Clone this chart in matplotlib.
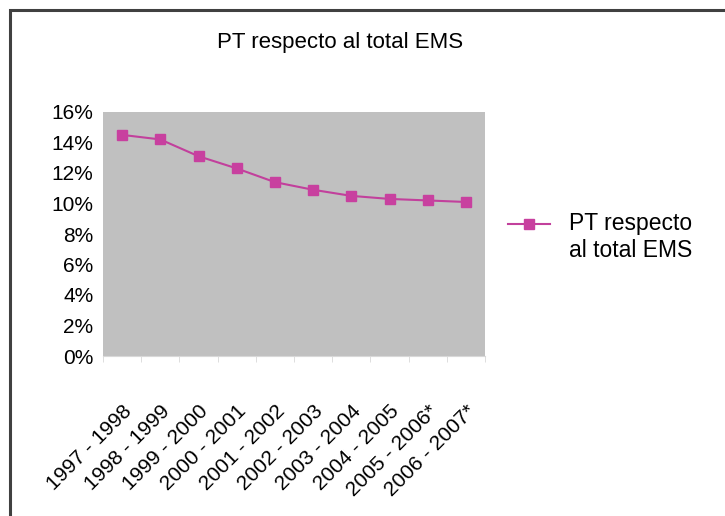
import matplotlib.pyplot as plt
from matplotlib.patches import Rectangle
from matplotlib.ticker import PercentFormatter

plt.rcParams['font.family'] = ['Liberation Sans', 'DejaVu Sans']

# data
periodos = ['1997 - 1998', '1998 - 1999', '1999 - 2000', '2000 - 2001', '2001 - 2002',
            '2002 - 2003', '2003 - 2004', '2004 - 2005', '2005 - 2006*', '2006 - 2007*']
pt_ems = [14.5, 14.2, 13.1, 12.3, 11.4, 10.9, 10.5, 10.3, 10.2, 10.1]

W, H = 725, 516
fig = plt.figure(figsize=(W / 100, H / 100), dpi=100)
ax = fig.add_axes([103 / W, 1 - 356 / H, 382 / W, 244 / H])

# outer frame (only top and left visible in the reference)
fig.patches.append(Rectangle((10 / W, -0.05), 1.1, 1 - 10 / H + 0.05,
                             transform=fig.transFigure, fill=False,
                             edgecolor='#404040', lw=2.2))

x = list(range(len(periodos)))
ax.plot(x, pt_ems, color='#C2409C', lw=1.5, marker='s', markersize=7.5,
        markerfacecolor='#C8409F', markeredgecolor='#C8409F',
        label='PT respecto\nal total EMS')

ax.set_facecolor('#C0C0C0')
ax.set_xlim(-0.5, len(periodos) - 0.5)
ax.set_ylim(0, 16)
ax.set_yticks(range(0, 17, 2))
ax.yaxis.set_major_formatter(PercentFormatter(decimals=0))
ax.set_xticks(x)
ax.set_xticklabels(periodos, rotation=45, ha='right', rotation_mode='anchor')
ax.set_xticks([i - 0.5 for i in range(len(periodos) + 1)], minor=True)
ax.tick_params(axis='y', length=0, labelsize=15, pad=7)
ax.tick_params(axis='x', which='major', length=0, labelsize=15, pad=33)
ax.tick_params(axis='x', which='minor', length=4, color='#D8D8D8', direction='out')
for s in ax.spines.values():
    s.set_visible(False)
ax.spines['bottom'].set_visible(True)
ax.spines['bottom'].set_color('#D8D8D8')

ax.set_title('PT respecto al total EMS', fontsize=16, x=(340 - 103) / 382, pad=46)

# tall handle box lifts the marker to the first text line, as in the reference
ax.legend(loc='center left', bbox_to_anchor=(508 / W, 1 - 240 / H),
          bbox_transform=fig.transFigure, frameon=False, borderpad=0,
          borderaxespad=0, fontsize=16.5, handlelength=1.85, handletextpad=0.8,
          handleheight=4.7)

fig.savefig('out.png', dpi=100)
